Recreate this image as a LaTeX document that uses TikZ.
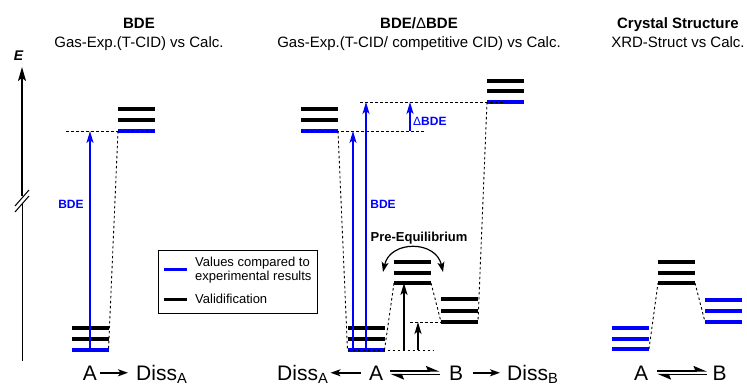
\documentclass[tikz,border=0pt]{standalone}
\usepackage{fontspec}
\setmainfont{Liberation Sans}
\usetikzlibrary{arrows.meta,positioning}

\tikzset{
  lvk/.style={rectangle, fill=black, inner sep=0, outer sep=0, minimum width=37pt, minimum height=3.1pt},
  lvb/.style={lvk, fill=blue, minimum height=3.5pt},
  lvt/.style={lvk, minimum height=4pt},
  guide/.style={line width=0.9pt, dash pattern=on 2.5pt off 2.5pt},
  tip/.style={-{Stealth[length=12pt, width=7pt, inset=3pt]}},
  gap/.style={tip, blue, line width=1.8pt},
  gapthin/.style={tip, blue, line width=1.1pt},
  barrier/.style={tip, line width=1.8pt},
  rxn/.style={-{Stealth[length=10pt, width=7pt, inset=2.5pt]}, line width=1.5pt},
  eqarrow/.style={-{Stealth[left, length=12pt, width=10pt, inset=2pt]}, line width=1.5pt},
  headtxt/.style={inner sep=0, font=\bfseries\fontsize{15}{18}\selectfont},
  subtxt/.style={inner sep=0, font=\fontsize{15}{18}\selectfont},
  gaptxt/.style={inner sep=0, text=blue, font=\bfseries\fontsize{12}{14}\selectfont},
  eqtxt/.style={inner sep=0, font=\fontsize{21}{24}\selectfont},
  keytxt/.style={inner sep=0, align=left, font=\fontsize{13}{14.5}\selectfont},
}

\begin{document}
\begin{tikzpicture}[x=1pt, y=-1pt]
        \useasboundingbox (0,0) rectangle (747,385);

        \node[headtxt, anchor=base] (lHead) at (139,29) {BDE};
        \node[subtxt, anchor=base] (lSub) at (139,48) {Gas-Exp.(T-CID) vs Calc.};
        \node[headtxt, anchor=base] (mHead) at (419,29) {BDE/{\mdseries Δ}BDE};
        \node[subtxt, anchor=base] (mSub) at (419,48) {Gas-Exp.(T-CID/ competitive CID) vs Calc.};
        \node[headtxt, anchor=base] (rHead) at (678,29) {Crystal Structure};
        \node[subtxt, anchor=base] (rSub) at (678,48) {XRD-Struct vs Calc.};

        \draw[line width=1.6pt, -{Stealth[length=14pt, width=8pt, inset=3pt]}] (22,196) -- (22,67);
        \draw[line width=1pt] (22,203) -- (22,361);
        \draw[line width=1pt] (15,206) -- (29,190);
        \draw[line width=1pt] (15,212) -- (29,196);
        \node[inner sep=0, font=\bfseries\itshape\fontsize{14}{16}\selectfont] (eLbl) at (18.5,55.5) {E};

        \node[lvk] (lA1) at (90,328) {};
        \node[lvk] (lA2) at (90,339) {};
        \node[lvb] (lA3) at (90,350) {};
        \node[lvk] (lD1) at (136.5,109) {};
        \node[lvk] (lD2) at (136.5,120) {};
        \node[lvb] (lD3) at (136.5,131) {};

        \coordinate (lG) at (66,131);
        \draw[guide] (lG) -- (lD3.east);
        \draw[guide] (lD3.west) -- (lA3.east);
        \draw[gap] (lA3) -- (lA3 |- lD3);
        \node[gaptxt] (lBDE) at (71,204) {BDE};

        \node[lvk] (mDA1) at (319.5,109) {};
        \node[lvk] (mDA2) at (319.5,120) {};
        \node[lvb] (mDA3) at (319.5,131) {};
        \node[lvk] (mDB1) at (505.5,81) {};
        \node[lvk] (mDB2) at (505.5,91) {};
        \node[lvb] (mDB3) at (505.5,102) {};
        \node[lvk] (mA1) at (366,328) {};
        \node[lvk] (mA2) at (366,339) {};
        \node[lvb] (mA3) at (366,350) {};
        \node[lvk] (mTS1) at (412.5,262) {};
        \node[lvk] (mTS2) at (412.5,273) {};
        \node[lvt] (mTS3) at (412.5,283) {};
        \node[lvk] (mB1) at (459.5,299) {};
        \node[lvk] (mB2) at (459.5,311) {};
        \node[lvt] (mB3) at (459.5,322) {};

        \coordinate (mG1) at (424,131);
        \coordinate (mG2) at (360,102);
        \coordinate (mG3) at (433,350);
        \coordinate (mG4) at (410,322);
        \draw[guide] (mDA3.west) -- (mG1);
        \draw[guide] (mG2) -- (mDB3.center);
        \draw[guide] (mDA3.east) -- (mA3.west);
        \draw[guide] (mDB3.west) -- (mB3.east);
        \draw[guide] (mA3.east) -- (mTS3.west);
        \draw[guide] (mTS3.east) -- (mB3.west);
        \draw[guide] (mA3.west) -- (mG3);
        \draw[guide] (mG4) -- (mB3.west);

        \coordinate (mS1) at (353,350);
        \coordinate (mS2) at (404,350);
        \coordinate (mS3) at (418,350);
        \draw[gapthin] (mS1) -- (mS1 |- mDA3);
        \draw[gapthin] (mA3) -- (mA3 |- mDB3);
        \draw[gap] (mG4 |- mG1) -- (mG4 |- mG2);
        \node[gaptxt, anchor=west] (mdBDE) at (413,121) {{\mdseries Δ}BDE};
        \node[gaptxt] (mBDE) at (383,204) {BDE};
        \draw[barrier] (mS2) -- (mS2 |- mTS3);
        \draw[barrier] (mS3) -- (mS3 |- mB3);

        \node[inner sep=0, font=\bfseries\fontsize{13}{15}\selectfont] (mPre) at (419,238) {Pre-Equilibrium};
        \coordinate (mC1) at (383,272);
        \coordinate (mC2) at (443,272);
        \draw[line width=1.2pt, {Stealth[length=10pt, width=7pt, inset=2.5pt]}-{Stealth[length=10pt, width=7pt, inset=2.5pt]}] (mC1) .. controls (390,240) and (436,240) .. (mC2);

        \node[lvb] (rA1) at (630.5,328) {};
        \node[lvb] (rA2) at (630.5,339) {};
        \node[lvb] (rA3) at (630.5,349) {};
        \node[lvk] (rTS1) at (676.5,262) {};
        \node[lvk] (rTS2) at (676.5,273) {};
        \node[lvt] (rTS3) at (676.5,283) {};
        \node[lvb] (rB1) at (723.5,300) {};
        \node[lvb] (rB2) at (723.5,311) {};
        \node[lvb] (rB3) at (723.5,322) {};
        \draw[guide] (rA3.east) -- (rTS3.west);
        \draw[guide] (rTS3.east) -- (rB3.west);

        \draw (158,250) node[anchor=north west, draw, line width=0.9pt, inner sep=0, outer sep=0, minimum width=159pt, minimum height=63pt] (key) {};
        \draw[blue, line width=3pt] ([xshift=6pt, yshift=-19pt]key.north west) -- ++(23,0);
        \draw[line width=3pt] ([xshift=6pt, yshift=-49pt]key.north west) -- ++(23,0);
        \node[keytxt, anchor=west] (keyB) at ([xshift=37pt, yshift=-20pt]key.north west) {Values compared to\\experimental results};
        \node[keytxt, anchor=west] (keyK) at ([xshift=37pt, yshift=-49pt]key.north west) {Validification};

        \node[eqtxt, anchor=base] (lAt) at (90,380) {A};
        \node[eqtxt, anchor=base west] (lDt) at (136,380) {Diss\textsubscript{A}};
        \draw[rxn, shorten <=3pt, shorten >=8pt] (lAt.east) -- (lAt.east -| lDt.west);

        \node[eqtxt, anchor=base west] (mDAt) at (277,380) {Diss\textsubscript{A}};
        \node[eqtxt, anchor=base] (mAt) at (376,380) {A};
        \node[eqtxt, anchor=base] (mBt) at (456,380) {B};
        \node[eqtxt, anchor=base west] (mDBt) at (507,380) {Diss\textsubscript{B}};
        \draw[rxn, shorten <=8pt, shorten >=2pt] (mAt.west) -- (mAt.west -| mDAt.east);
        \draw[eqarrow, shorten <=7pt, shorten >=9pt] ([yshift=1.8pt]mAt.east) -- ([yshift=1.8pt]mAt.east -| mBt.west);
        \draw[eqarrow, shorten <=9pt, shorten >=7pt] ([yshift=-1.8pt]mBt.west) -- ([yshift=-1.8pt]mBt.west -| mAt.east);
        \draw[rxn, shorten <=10pt, shorten >=7pt] (mBt.east) -- (mBt.east -| mDBt.west);

        \node[eqtxt, anchor=base] (rAt) at (641,380) {A};
        \node[eqtxt, anchor=base] (rBt) at (719.5,380) {B};
        \draw[eqarrow, shorten <=9pt, shorten >=5pt] ([yshift=1.8pt]rAt.east) -- ([yshift=1.8pt]rAt.east -| rBt.west);
        \draw[eqarrow, shorten <=5pt, shorten >=9pt] ([yshift=-1.8pt]rBt.west) -- ([yshift=-1.8pt]rBt.west -| rAt.east);
      \end{tikzpicture}
\end{document}
